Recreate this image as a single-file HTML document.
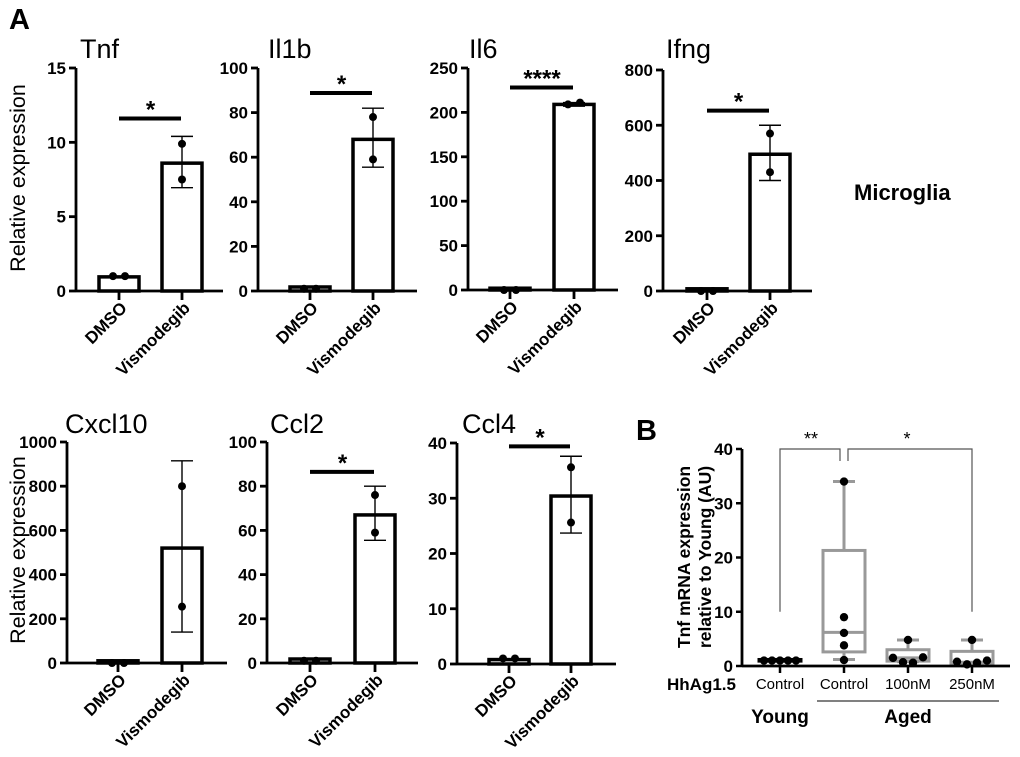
<!DOCTYPE html>
<html><head><meta charset="utf-8"><style>
html,body{margin:0;padding:0;background:#fff;}
svg{display:block;font-family:"Liberation Sans",Arial,sans-serif;}
</style></head><body>
<svg id="fig" width="1020" height="757" viewBox="0 0 1020 757">
<text x="9" y="29" font-size="29" font-weight="bold">A</text>
<text x="854" y="200" font-size="22" font-weight="bold">Microglia</text>
<text x="636" y="440" font-size="29" font-weight="bold">B</text>
<text transform="translate(25,178) rotate(-90)" text-anchor="middle" font-size="21.5">Relative expression</text>
<text transform="translate(25,550) rotate(-90)" text-anchor="middle" font-size="21.5">Relative expression</text>
<g id="panels"></g>
<g id="panelB"></g>
</svg>
<script>
// ===== Panel A data =====
const geneNames = ["Tnf","Il1b","Il6","Ifng","Cxcl10","Ccl2","Ccl4"];
const yMaxes = [15,100,250,800,1000,100,40];
const yTickStep = [5,20,50,200,200,20,10];
const dmsoMeans = [0.95,1.8,2,8,10,1.8,0.8];
const dmsoPoints = [[1.0,1.0],[1,1],[0,0],[0,0],[0,0],[1,1],[1,1]];
const visMeans = [8.6,68,209,495,520,67,30.4];
const visPoints = [[9.9,7.5],[78,59],[209,211],[570,430],[800,255],[76,59],[35.6,25.6]];
const visErrLow = [6.95,55.5,207,400,140,55.5,23.7];
const visErrHigh = [10.4,82,211,600,915,80,37.6];
const sigLabels = ["*","*","****","*","","*","*"];
const sigLevels = [11.6,88.8,228,653,0,86.5,39.4];
const categories = ["DMSO","Vismodegib"];

const layout = [
 {ax:76,y0:291,yt:68,x1:119,x2:182,xe:223,tx:80,ty:58},
 {ax:258,y0:291,yt:68,x1:310,x2:373,xe:417,tx:268,ty:58},
 {ax:468,y0:290,yt:68,x1:510,x2:574,xe:618,tx:469,ty:58},
 {ax:663,y0:291,yt:70,x1:707,x2:770,xe:812,tx:666,ty:58},
 {ax:67,y0:663,yt:442,x1:118,x2:182,xe:227,tx:65,ty:433},
 {ax:267,y0:663,yt:442,x1:310,x2:375,xe:418,tx:270,ty:433},
 {ax:457,y0:664,yt:443,x1:509,x2:571,xe:616,tx:462,ty:433}
];
const NS="http://www.w3.org/2000/svg";
function mk(tag,attrs,parent){const e=document.createElementNS(NS,tag);for(const k in attrs)e.setAttribute(k,attrs[k]);parent.appendChild(e);return e;}
const P=document.getElementById('panels');
geneNames.forEach((g,i)=>{
 const L=layout[i];
 const y=v=>L.y0-(v/yMaxes[i])*(L.y0-L.yt);
 const grp=mk('g',{},P);
 
 
 const t=mk('text',{x:L.tx,y:L.ty,'font-size':27},grp);t.textContent=g;
 
 
 const bw=40;
 [[L.x1,dmsoMeans[i]],[L.x2,visMeans[i]]].forEach((b,j)=>{
  const r=mk('rect',{x:b[0]-bw/2,y:y(b[1]),width:bw,height:L.y0-y(b[1]),fill:'#fff',stroke:'#000','stroke-width':3.5},grp);
  
  
 });
 const ex=L.x2;
 mk('line',{x1:ex,x2:ex,y1:y(visErrLow[i]),y2:y(visErrHigh[i]),stroke:'#000','stroke-width':1.4},grp);
 mk('line',{x1:ex-11,x2:ex+11,y1:y(visErrLow[i]),y2:y(visErrLow[i]),stroke:'#000','stroke-width':1.4},grp);
 mk('line',{x1:ex-11,x2:ex+11,y1:y(visErrHigh[i]),y2:y(visErrHigh[i]),stroke:'#000','stroke-width':1.4},grp);
 dmsoPoints[i].forEach((v,k)=>{const c=mk('circle',{cx:L.x1-6+k*12,cy:y(v),r:4,fill:'#000'},grp);
  
  });
 visPoints[i].forEach((v,k)=>{const off=(Math.abs(visPoints[i][0]-visPoints[i][1])/yMaxes[i]<0.03)?(k*12-6):0;
  const c=mk('circle',{cx:ex+off,cy:y(v),r:4,fill:'#000'},grp);
  
  });
 mk('line',{x1:L.ax,x2:L.ax,y1:L.yt,y2:L.y0+1,stroke:'#000','stroke-width':2.8},grp);
 mk('line',{x1:L.ax,x2:L.xe,y1:L.y0,y2:L.y0,stroke:'#000','stroke-width':2.8},grp);
 for(let v=0;v<=yMaxes[i]+1e-9;v+=yTickStep[i]){
  mk('line',{x1:L.ax-7,x2:L.ax,y1:y(v),y2:y(v),stroke:'#000','stroke-width':2.8},grp);
  const tt=mk('text',{x:L.ax-10,y:y(v)+6,'font-size':17,'font-weight':'bold','text-anchor':'end'},grp);tt.textContent=v;
  
  
 }
 [L.x1,L.x2].forEach((xx,j)=>{
  mk('line',{x1:xx,x2:xx,y1:L.y0,y2:L.y0+9,stroke:'#000','stroke-width':2.8},grp);
  const tl=mk('text',{transform:`translate(${xx+9},${L.y0+18}) rotate(-45)`,'font-size':17,'font-weight':'bold','text-anchor':'end'},grp);
  tl.textContent=categories[j];
  
  
 });
 if(sigLabels[i]){
  const sy=y(sigLevels[i]);
  mk('line',{x1:L.x1,x2:L.x2-1,y1:sy,y2:sy,stroke:'#000','stroke-width':4},grp);
  const st=mk('text',{x:(L.x1+L.x2)/2,y:sy-1,'font-size':24,'font-weight':'bold','text-anchor':'middle'},grp);
  st.textContent=sigLabels[i];
  
  
 }
});

// ===== Panel B data =====
const bGroups = ["Control","Control","100nM","250nM"];
const bWhiskLo = [1,1.2,0.8,0];
const bWhiskHi = [1,34,4.8,4.8];
const bQ1 = [0.9,2.6,0.9,0.3];
const bQ3 = [1.2,21.3,3.0,2.7];
const bMedian = [1,6.2,1.5,0.7];
const bPoints = [[1,1,1,1,1],[34,9,6.1,3.8,1.1],[4.8,1.5,0.7,0.6,1.6],[4.8,0.8,0.3,0.6,1.0]];
const bTicks = [0,10,20,30,40];
(function(){
 const B=document.getElementById('panelB');
 const ax=742,y0=666,yt=449,ymax=40;
 const y=v=>y0-v/ymax*(y0-yt);
 const gx=[780,844,908,972];
 const bw=42;
 gx.forEach((x,i)=>{
  const g=mk('g',{},B);
  
  
  const col=i===0?'#000':'#999';
  mk('line',{x1:x,x2:x,y1:y(bWhiskLo[i]),y2:y(bWhiskHi[i]),stroke:col,'stroke-width':3},g);
  [bWhiskLo[i],bWhiskHi[i]].forEach(v=>mk('line',{x1:x-11,x2:x+11,y1:y(v),y2:y(v),stroke:col,'stroke-width':3},g));
  mk('rect',{x:x-bw/2,y:y(bQ3[i]),width:bw,height:Math.max(1,y(bQ1[i])-y(bQ3[i])),fill:i===0?'#000':'#fff',stroke:col,'stroke-width':3},g);
  mk('line',{x1:x-bw/2,x2:x+bw/2,y1:y(bMedian[i]),y2:y(bMedian[i]),stroke:col,'stroke-width':3},g);
  bPoints[i].forEach((v,k)=>{
   let cx=x;
   if(i===0) cx=x-16+k*8;
   else if(i>1 && k>0) cx=x-15+(k-1)*10;
   const c=mk('circle',{cx:cx,cy:y(v),r:4.2,fill:'#000'},g);
   
   
  });
  mk('line',{x1:x,x2:x,y1:y0,y2:y0+7,stroke:'#000','stroke-width':2.5},B);
  const tl=mk('text',{x:x,y:689,'font-size':15,'text-anchor':'middle'},B);tl.textContent=bGroups[i];
  
  
 });
 mk('line',{x1:ax,x2:ax,y1:yt,y2:y0+1,stroke:'#000','stroke-width':2.8},B);
 mk('line',{x1:ax,x2:1010,y1:y0,y2:y0,stroke:'#000','stroke-width':2.8},B);
 bTicks.forEach(v=>{
  mk('line',{x1:ax-6,x2:ax,y1:y(v),y2:y(v),stroke:'#000','stroke-width':2.5},B);
  const t=mk('text',{x:ax-9,y:y(v)+6,'font-size':17,'font-weight':'bold','text-anchor':'end'},B);t.textContent=v;
  
  
 });
 mk('path',{d:`M${gx[0]} ${y(10)} V${yt} H${gx[1]-4} V${yt+12}`,fill:'none',stroke:'#555','stroke-width':1.2},B);
 mk('path',{d:`M${gx[1]+4} ${yt+12} V${yt} H${gx[3]} V${y(10)}`,fill:'none',stroke:'#555','stroke-width':1.2},B);
 const s1=mk('text',{x:811,y:445,'font-size':18,'text-anchor':'middle'},B);s1.textContent='**';
 
 
 const s2=mk('text',{x:907,y:445,'font-size':18,'text-anchor':'middle'},B);s2.textContent='*';
 
 
 const h=mk('text',{x:667,y:690,'font-size':17,'font-weight':'bold'},B);h.textContent='HhAg1.5';
 
 
 mk('line',{x1:817,x2:999,y1:701,y2:701,stroke:'#000','stroke-width':1},B);
 const yo=mk('text',{x:780,y:723,'font-size':19,'font-weight':'bold','text-anchor':'middle'},B);yo.textContent='Young';
 
 
 const ag=mk('text',{x:908,y:723,'font-size':19,'font-weight':'bold','text-anchor':'middle'},B);ag.textContent='Aged';
 
 
 const t1=mk('text',{transform:'translate(690,557) rotate(-90)','font-size':17.5,'font-weight':'bold','text-anchor':'middle'},B);t1.textContent='Tnf mRNA expression';
 
 
 const t2=mk('text',{transform:'translate(711,557) rotate(-90)','font-size':17.5,'font-weight':'bold','text-anchor':'middle'},B);t2.textContent='relative to Young (AU)';
 
 
})();
</script>
</body></html>
